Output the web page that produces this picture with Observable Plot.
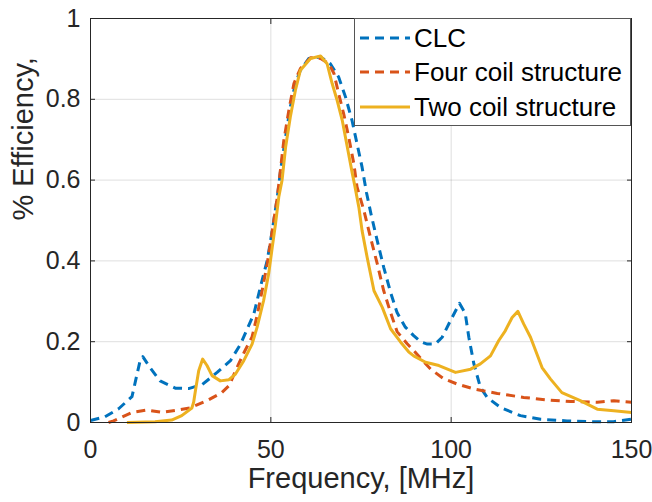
<!DOCTYPE html>
<html>
<head>
<meta charset="utf-8">
<script src="https://cdn.jsdelivr.net/npm/d3@7"></script>
<script src="https://cdn.jsdelivr.net/npm/@observablehq/plot@0.6"></script>
<style>
  html, body { margin: 0; padding: 0; background: #fff; }
  #wrap { position: relative; width: 652px; height: 502px; font-family: "Liberation Sans", Arial, Helvetica, sans-serif; }
  #legend { position: absolute; left: 354px; top: 18px; }
</style>
</head>
<body>
<div id="wrap"></div>
<script>
// ---- data ----
const clcFreq = [0, 4, 7.8, 11.5, 13.8, 14.5, 16.5, 19.3, 23.5, 27.2, 31, 35.1, 38.8, 41.6, 45.3, 47.1, 49, 50.4, 51.8, 52.7, 54.1, 55.4, 56.8, 58.2, 60.5, 63.8, 66.5, 68.8, 70.7, 72.5, 73.9, 75.3, 76.5, 77.8, 79.5, 81.3, 83.2, 85, 87.3, 89.6, 91.5, 93.4, 95.6, 97.5, 99.8, 102.3, 103.9, 104.9, 106.3, 108.1, 110, 113.7, 119.2, 124.8, 132.1, 139.5, 145, 150];
const clcEff  = [0.005, 0.014, 0.034, 0.064, 0.155, 0.163, 0.136, 0.103, 0.085, 0.084, 0.094, 0.124, 0.153, 0.194, 0.269, 0.335, 0.401, 0.475, 0.558, 0.624, 0.707, 0.781, 0.839, 0.872, 0.901, 0.905, 0.888, 0.855, 0.806, 0.748, 0.690, 0.632, 0.570, 0.515, 0.450, 0.384, 0.322, 0.272, 0.236, 0.215, 0.200, 0.194, 0.194, 0.211, 0.252, 0.295, 0.270, 0.211, 0.145, 0.087, 0.062, 0.037, 0.017, 0.008, 0.004, 0.002, 0.002, 0.008];

const fourFreq = [5, 6.4, 11.5, 15.6, 19.8, 24.4, 27.6, 32.3, 36.4, 38.5, 40.2, 42.5, 44.8, 46.2, 47.6, 49, 50.4, 51.8, 52.4, 53.6, 55, 56.4, 58.2, 61, 63.8, 66.1, 67.5, 68.8, 70.2, 71.6, 73, 73.9, 75.8, 77.6, 79.5, 81.3, 83.2, 85, 87.8, 89.6, 94.3, 98, 101.7, 106.3, 112.8, 120.1, 126.6, 133.1, 140.5, 145.1, 150];
const fourEff  = [0.0, 0.004, 0.025, 0.031, 0.025, 0.031, 0.036, 0.054, 0.074, 0.092, 0.128, 0.172, 0.212, 0.265, 0.327, 0.393, 0.475, 0.558, 0.605, 0.698, 0.773, 0.839, 0.876, 0.903, 0.901, 0.888, 0.864, 0.814, 0.764, 0.706, 0.641, 0.583, 0.525, 0.459, 0.393, 0.326, 0.272, 0.225, 0.195, 0.178, 0.132, 0.108, 0.095, 0.083, 0.072, 0.062, 0.056, 0.052, 0.050, 0.054, 0.050];

const twoFreq = [10.1, 17.9, 22.5, 25.3, 28.1, 28.6, 29.1, 30, 31.1, 32.3, 33.7, 36, 38.4, 40.2, 42.5, 44.8, 46.2, 48, 49.4, 50.4, 51.3, 52.2, 53.1, 54.1, 55.4, 56.8, 58.2, 61, 63.8, 65.6, 67, 68.4, 69.8, 71.2, 72.6, 73.3, 74.4, 75.3, 76.7, 78.6, 80.9, 83.2, 85.9, 88.2, 89.6, 92.9, 96.6, 101.2, 105.4, 108.1, 110.9, 113.2, 115, 116.9, 118.5, 120.1, 122, 125.2, 127.5, 130.7, 135.8, 140.5, 145.1, 150];
const twoEff  = [0.0, 0.002, 0.006, 0.017, 0.036, 0.05, 0.079, 0.128, 0.157, 0.141, 0.116, 0.103, 0.106, 0.120, 0.153, 0.194, 0.236, 0.302, 0.368, 0.434, 0.492, 0.558, 0.599, 0.682, 0.756, 0.822, 0.872, 0.901, 0.907, 0.888, 0.839, 0.797, 0.748, 0.682, 0.616, 0.585, 0.533, 0.475, 0.409, 0.326, 0.285, 0.232, 0.200, 0.175, 0.165, 0.149, 0.141, 0.124, 0.132, 0.145, 0.165, 0.203, 0.227, 0.260, 0.275, 0.244, 0.211, 0.136, 0.108, 0.074, 0.054, 0.033, 0.029, 0.025];

const seriesNames = ["CLC", "Four coil structure", "Two coil structure"];
const xTicks = [0, 50, 100, 150];
const xTickLabels = ["0", "50", "100", "150"];
const yTicks = [0, 0.2, 0.4, 0.6, 0.8, 1];
const yTickLabels = ["0", "0.2", "0.4", "0.6", "0.8", "1"];
const xLabel = "Frequency, [MHz]";
const yLabel = "% Efficiency,";

// ---- styles ----
const styles = [
  {color: "#0072BD", dash: "9,6"},
  {color: "#D95319", dash: "9,6"},
  {color: "#EDB120", dash: null}
];
const axisColor = "#262626";
const font = "'Liberation Sans', Arial, Helvetica, sans-serif";

const toRows = (fs, es) => fs.map((f, i) => ({f, e: es[i]}));
const series = [toRows(clcFreq, clcEff), toRows(fourFreq, fourEff), toRows(twoFreq, twoEff)];

const xFmt = new Map(xTicks.map((t, i) => [t, xTickLabels[i]]));
const yFmt = new Map(yTicks.map((t, i) => [t, yTickLabels[i]]));

const lineMarks = series.map((rows, k) => Plot.line(rows, {
  x: "f", y: "e",
  stroke: styles[k].color,
  strokeWidth: 3,
  strokeDasharray: styles[k].dash,
  strokeLinejoin: "round",
  strokeLinecap: "butt"
}));

const chart = Plot.plot({
  width: 652,
  height: 502,
  marginLeft: 90,
  marginRight: 21,
  marginTop: 18,
  marginBottom: 80,
  style: {fontFamily: font, background: "white", color: axisColor, overflow: "visible"},
  x: {domain: [0, 150], label: null},
  y: {domain: [0, 1], label: null},
  marks: [
    Plot.gridX(xTicks, {stroke: axisColor, strokeOpacity: 0.15, strokeWidth: 1}),
    Plot.gridY(yTicks, {stroke: axisColor, strokeOpacity: 0.15, strokeWidth: 1}),
    ...lineMarks,
    Plot.frame({stroke: axisColor, strokeWidth: 1}),
    // inward tick marks on all four sides
    Plot.axisX(xTicks, {anchor: "bottom", tickSize: -5, tickFormat: () => "", label: null, stroke: axisColor}),
    Plot.axisX(xTicks, {anchor: "top", tickSize: -5, tickFormat: () => "", label: null, stroke: axisColor}),
    Plot.axisY(yTicks, {anchor: "left", tickSize: -5, tickFormat: () => "", label: null, stroke: axisColor}),
    Plot.axisY(yTicks, {anchor: "right", tickSize: -5, tickFormat: () => "", label: null, stroke: axisColor}),
    // tick labels
    Plot.axisX(xTicks, {anchor: "bottom", tickSize: 0, tickPadding: 18, fontSize: 25, tickFormat: d => xFmt.get(d), label: null, fill: axisColor}),
    Plot.axisY(yTicks, {anchor: "left", tickSize: 0, tickPadding: 10, fontSize: 25, tickFormat: d => yFmt.get(d), label: null, fill: axisColor}),
    // axis titles
    Plot.text([xLabel], {text: d => d, frameAnchor: "bottom", lineAnchor: "top", dy: 45, fontSize: 29, fill: axisColor}),
    Plot.text([yLabel], {text: d => d, frameAnchor: "left", lineAnchor: "top", rotate: -90, dx: -78, fontSize: 29, fill: axisColor})
  ]
});

const wrap = document.getElementById("wrap");
wrap.appendChild(chart);

// ---- legend (inside the axes, top right) ----
const ns = "http://www.w3.org/2000/svg";
const lg = document.createElementNS(ns, "svg");
lg.setAttribute("id", "legend");
lg.setAttribute("width", 277);
lg.setAttribute("height", 108);
const box = document.createElementNS(ns, "rect");
box.setAttribute("x", 0.5); box.setAttribute("y", 0.5);
box.setAttribute("width", 276); box.setAttribute("height", 107);
box.setAttribute("fill", "white"); box.setAttribute("stroke", "#555"); box.setAttribute("stroke-width", 1);
lg.appendChild(box);
const rowY = [20, 54, 89];
seriesNames.forEach((name, k) => {
  const ln = document.createElementNS(ns, "line");
  ln.setAttribute("x1", 6); ln.setAttribute("x2", 56);
  ln.setAttribute("y1", rowY[k]); ln.setAttribute("y2", rowY[k]);
  ln.setAttribute("stroke", styles[k].color);
  ln.setAttribute("stroke-width", 3);
  if (styles[k].dash) ln.setAttribute("stroke-dasharray", styles[k].dash);
  lg.appendChild(ln);
  const tx = document.createElementNS(ns, "text");
  tx.setAttribute("x", 60);
  tx.setAttribute("y", rowY[k]);
  tx.setAttribute("dy", "0.35em");
  tx.setAttribute("font-size", 26);
  tx.setAttribute("font-family", font);
  tx.setAttribute("fill", "#000");
  tx.textContent = name;
  lg.appendChild(tx);
});
wrap.appendChild(lg);
</script>
</body>
</html>
